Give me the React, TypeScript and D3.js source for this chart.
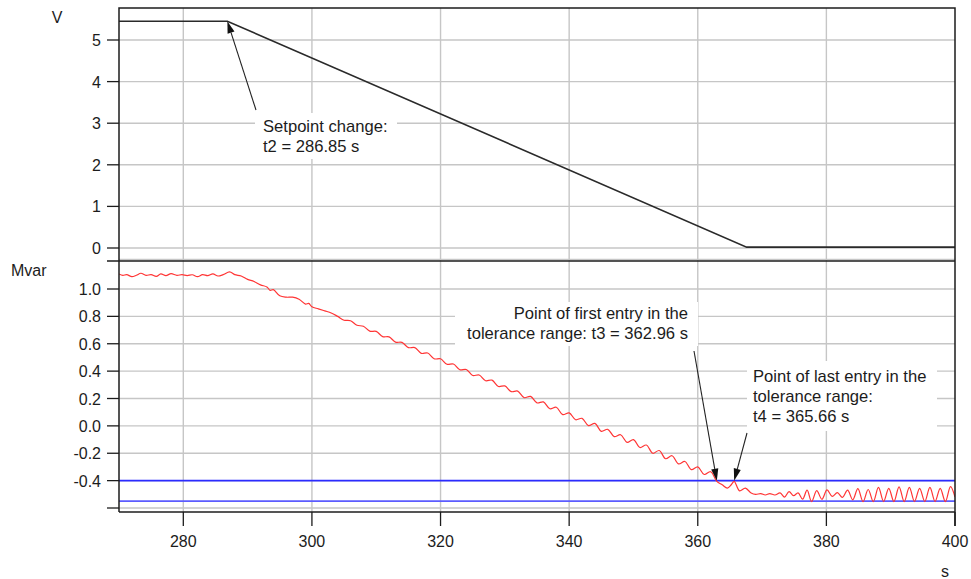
import { useEffect, useRef } from "react";
import * as d3 from "d3";

// time axis (s)
const timeDomain = [270, 400];
const timeTicks = [280, 300, 320, 340, 360, 380, 400];

// upper panel: setpoint voltage (V)
const voltageTicks = [0, 1, 2, 3, 4, 5];
const voltage: [number, number][] = [
  [270, 5.45],
  [286.85, 5.45],
  [367.6, 0.02],
  [400, 0.02],
];

// lower panel: reactive power (Mvar)
const mvarTicks = [1.0, 0.8, 0.6, 0.4, 0.2, 0.0, -0.2, -0.4, -0.6];
const mvarLabelled = [1.0, 0.8, 0.6, 0.4, 0.2, 0.0, -0.2, -0.4];
const toleranceBand = [-0.4, -0.55];
const reactivePower: [number, number][] = [
  [270, 1.11], [270.6, 1.1], [271.2, 1.105], [272, 1.09], [272.7, 1.1], [273.4, 1.115],
  [274.2, 1.1], [275, 1.105], [275.8, 1.092], [276.5, 1.11], [277.3, 1.098], [278.1, 1.112],
  [279, 1.1], [279.8, 1.105], [280.6, 1.098], [281.4, 1.104], [282.2, 1.09], [283, 1.105],
  [283.8, 1.098], [284.6, 1.11], [285.4, 1.095], [286.2, 1.105], [287.2, 1.125], [288, 1.105],
  [289, 1.095], [290, 1.07], [291, 1.055], [292, 1.03], [293, 1.015], [293.5, 0.99],
  [294, 0.995], [295, 0.95], [296, 0.94], [297, 0.94], [298, 0.925], [299, 0.89],
  [299.5, 0.895], [300, 0.87], [301, 0.855], [302, 0.84], [303, 0.825], [304, 0.8],
  [305, 0.772], [306, 0.768], [307, 0.735], [308, 0.728], [309, 0.692], [310, 0.69],
  [311, 0.652], [312, 0.65], [313, 0.612], [314, 0.61], [315, 0.572], [316, 0.572],
  [317, 0.53], [318, 0.532], [319, 0.49], [320, 0.49], [321, 0.45], [322, 0.452],
  [323, 0.41], [324, 0.412], [325, 0.368], [326, 0.372], [327, 0.33], [328, 0.334],
  [329, 0.288], [330, 0.292], [331, 0.25], [332, 0.254], [333, 0.206], [334, 0.215],
  [335, 0.168], [336, 0.175], [337, 0.125], [338, 0.136], [339, 0.082], [340, 0.095],
  [341, 0.045], [342, 0.055], [343, 0.002], [344, 0.018], [345, -0.04], [346, -0.025],
  [347, -0.078], [348, -0.065], [349, -0.12], [350, -0.1], [351, -0.158], [352, -0.14],
  [353, -0.2], [354, -0.18], [355, -0.24], [356, -0.218], [357, -0.278], [358, -0.26],
  [359, -0.32], [360, -0.3], [361, -0.355], [362, -0.335], [362.96, -0.405], [363.8, -0.43],
  [364.6, -0.455], [365.2, -0.43], [365.66, -0.405], [366.5, -0.475], [367.4, -0.455],
  [368.3, -0.49], [369, -0.5], [369.8, -0.495], [370.5, -0.505], [371.2, -0.495],
  [372, -0.505], [372.8, -0.49], [373.5, -0.52], [374.2, -0.48], [374.9, -0.51],
  [375.6, -0.49], [376.3, -0.535], [377, -0.47], [377.7, -0.553], [378.5, -0.473],
  [379.3, -0.536], [380.1, -0.468], [380.9, -0.515], [381.7, -0.488], [382.5, -0.522],
  [383.3, -0.47], [384.1, -0.54], [384.9, -0.458], [385.7, -0.553], [386.5, -0.465],
  [387.3, -0.553], [388.1, -0.45], [388.9, -0.553], [389.7, -0.456], [390.5, -0.553],
  [391.3, -0.445], [392.1, -0.553], [392.9, -0.45], [393.7, -0.553], [394.5, -0.456],
  [395.3, -0.553], [396.1, -0.45], [396.9, -0.553], [397.7, -0.456], [398.5, -0.553],
  [399.3, -0.444], [400, -0.52],
];

const annotations = [
  {
    lines: ["Setpoint change:", "t2 = 286.85 s"],
    panel: "top",
    target: [286.85, 5.45],
    anchor: "start",
    textX: 263, textY: 132,
    box: [255, 113, 142, 46],
    tail: [256, 110],
  },
  {
    lines: ["Point of first entry in the", "tolerance range: t3 = 362.96 s"],
    panel: "bottom",
    target: [362.96, -0.4],
    anchor: "end",
    textX: 688, textY: 319,
    box: [455, 302, 243, 44],
    tail: [694, 351],
  },
  {
    lines: ["Point of last entry in the", "tolerance range:", "t4 = 365.66 s"],
    panel: "bottom",
    target: [365.66, -0.4],
    anchor: "start",
    textX: 753, textY: 382,
    box: [747, 361, 190, 70],
    tail: [747, 433],
  },
];

const FONT = "'Liberation Sans', Arial, sans-serif";
const GRID = "#c6c6c6";
const INK = "#1c1c1c";

const App = () => {
  const chartRef = useRef(null);

  useEffect(() => {
    const width = 971;
    const height = 579;
    const left = 119;
    const right = 955;
    const top = 8;
    const split = 261;
    const bottom = 512;

    d3.select(chartRef.current).selectAll("svg").remove();

    const svg = d3
      .select(chartRef.current)
      .append("svg")
      .attr("width", width)
      .attr("height", height)
      .style("position", "absolute")
      .style("left", "0px")
      .style("top", "0px")
      .style("background", "#fff")
      .attr("font-family", FONT);

    const x = d3.scaleLinear().domain(timeDomain).range([left, right]);
    const yTop = d3.scaleLinear().domain([0, 5]).range([248, 40]);
    const yBot = d3.scaleLinear().domain([-0.6, 1.0]).range([508, 289]);

    const defs = svg.append("defs");
    defs.append("clipPath").attr("id", "clip-top")
      .append("rect").attr("x", left).attr("y", top).attr("width", right - left).attr("height", split - top);
    defs.append("clipPath").attr("id", "clip-bot")
      .append("rect").attr("x", left).attr("y", split).attr("width", right - left).attr("height", bottom - split);

    // grid
    const grid = svg.append("g").attr("stroke", GRID).attr("stroke-width", 1.4);
    grid.selectAll(".vx").data(timeTicks.filter((t) => t < 400)).enter().append("line")
      .attr("x1", (d) => x(d)).attr("x2", (d) => x(d)).attr("y1", top).attr("y2", bottom);
    grid.selectAll(".ht").data(voltageTicks).enter().append("line")
      .attr("x1", left).attr("x2", right).attr("y1", (d) => yTop(d)).attr("y2", (d) => yTop(d));
    grid.selectAll(".hb").data(mvarTicks).enter().append("line")
      .attr("x1", left).attr("x2", right).attr("y1", (d) => yBot(d)).attr("y2", (d) => yBot(d));
    grid.append("line").attr("x1", left).attr("x2", right).attr("y1", split - 1.5).attr("y2", split - 1.5);

    // tolerance band
    svg.selectAll(".band").data(toleranceBand).enter().append("line")
      .attr("x1", left).attr("x2", right)
      .attr("y1", (d) => yBot(d)).attr("y2", (d) => yBot(d))
      .attr("stroke", (d, i) => (i === 0 ? "#2b2bff" : "#5c5cff"))
      .attr("stroke-width", 1.6);

    // series
    const vLine = d3.line().x((d) => x(d[0])).y((d) => yTop(d[1]));
    svg.append("path").datum(voltage).attr("clip-path", "url(#clip-top)")
      .attr("d", vLine).attr("fill", "none").attr("stroke", "#2a2a2a").attr("stroke-width", 1.6);

    const qLine = d3.line().x((d) => x(d[0])).y((d) => yBot(d[1])).curve(d3.curveCatmullRom.alpha(0.5));
    svg.append("path").datum(reactivePower).attr("clip-path", "url(#clip-bot)")
      .attr("d", qLine).attr("fill", "none").attr("stroke", "#ff3535").attr("stroke-width", 1.2);

    // frame
    const frame = svg.append("g").attr("stroke", INK).attr("stroke-width", 1.5).attr("fill", "none");
    frame.append("path").attr("d", `M${left},${bottom}V${top}H${right}V${bottom + 14}`);
    frame.append("line").attr("x1", left - 12).attr("x2", right).attr("y1", split).attr("y2", split);
    frame.append("line").attr("x1", left).attr("x2", right).attr("y1", bottom).attr("y2", bottom);

    // y axes
    const ticks = svg.append("g").attr("stroke", INK).attr("stroke-width", 1.3);
    ticks.selectAll(".tt").data(voltageTicks).enter().append("line")
      .attr("x1", left - 12).attr("x2", left).attr("y1", (d) => yTop(d)).attr("y2", (d) => yTop(d));
    ticks.selectAll(".tb").data(mvarTicks).enter().append("line")
      .attr("x1", left - 12).attr("x2", left).attr("y1", (d) => yBot(d)).attr("y2", (d) => yBot(d));
    ticks.selectAll(".tx").data(timeTicks).enter().append("line")
      .attr("x1", (d) => x(d)).attr("x2", (d) => x(d)).attr("y1", bottom).attr("y2", bottom + 14);

    const labels = svg.append("g").attr("fill", INK).attr("font-size", 16);
    labels.selectAll(".lt").data(voltageTicks).enter().append("text")
      .attr("x", 101).attr("y", (d) => yTop(d) + 6).attr("text-anchor", "end").text((d) => String(d));
    labels.selectAll(".lb").data(mvarLabelled).enter().append("text")
      .attr("x", 101).attr("y", (d) => yBot(d) + 6).attr("text-anchor", "end").text((d) => d.toFixed(1));
    labels.selectAll(".lx").data(timeTicks).enter().append("text")
      .attr("x", (d) => x(d)).attr("y", 547).attr("text-anchor", "middle").text((d) => String(d));

    labels.append("text").attr("x", 57).attr("y", 23).attr("text-anchor", "middle").text("V");
    labels.append("text").attr("x", 11).attr("y", 276).text("Mvar");
    labels.append("text").attr("x", 945).attr("y", 577).attr("text-anchor", "middle").text("s");

    // annotations
    annotations.forEach((a) => {
      const g = svg.append("g");
      g.append("rect").attr("x", a.box[0]).attr("y", a.box[1]).attr("width", a.box[2]).attr("height", a.box[3])
        .attr("fill", "#fff");
      const tx = x(a.target[0]);
      const ty = a.panel === "top" ? yTop(a.target[1]) : yBot(a.target[1]);
      const dx = tx - a.tail[0];
      const dy = ty - a.tail[1];
      const len = Math.hypot(dx, dy);
      const ux = dx / len;
      const uy = dy / len;
      const headLen = 12;
      const headW = 3.6;
      const bx = tx - ux * headLen;
      const by = ty - uy * headLen;
      g.append("line").attr("x1", a.tail[0]).attr("y1", a.tail[1]).attr("x2", bx).attr("y2", by)
        .attr("stroke", "#222").attr("stroke-width", 1.1);
      g.append("path")
        .attr("d", `M${tx},${ty}L${bx - uy * headW},${by + ux * headW}L${bx + uy * headW},${by - ux * headW}Z`)
        .attr("fill", "#111");
      g.selectAll("text").data(a.lines).enter().append("text")
        .attr("x", a.textX).attr("y", (d, i) => a.textY + i * 20)
        .attr("text-anchor", a.anchor).attr("font-size", 16.6).attr("fill", INK)
        .text((d) => d);
    });
  }, []);

  return <div ref={chartRef}></div>;
};

export default App;
